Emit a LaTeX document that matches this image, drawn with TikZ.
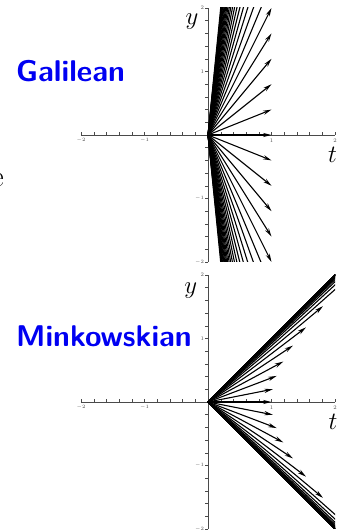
\documentclass[tikz,border=0pt]{standalone}
\usepackage{tikz}
\usetikzlibrary{arrows.meta}
\definecolor{titleblue}{HTML}{0000F2}
\definecolor{achsgrau}{HTML}{4A4A4A}
\newcommand{\ticklbl}{\fontsize{5.5}{6.5}\selectfont}
\newcommand{\gross}{\fontsize{30}{36}\selectfont}
\newcommand{\achsfont}{\fontsize{26}{30}\selectfont}
\tikzset{vecpfeil/.style={line width=1.1pt,-{Stealth[length=8.5pt,width=4.2pt]}},
  achse/.style={achsgrau,line width=0.7pt},
  strich/.style={achsgrau,line width=0.4pt},
  ticklabel/.style={inner sep=0,text=achsgrau,font=\ticklbl},
  titel/.style={anchor=base west,inner sep=0,text=titleblue,font=\gross\sffamily\bfseries}}

\begin{document}
\begin{tikzpicture}[x=1pt,y=1pt]
\useasboundingbox (0,0) rectangle (341,531);
% cut-off letter at the left edge
\begin{scope}
\clip (0,0) rectangle (341,531);
\node[anchor=east,inner sep=0,font=\gross] (rest) at (4,351) {e};
\end{scope}
\node[titel] (galilei) at (16,449) {Galilean};
\node[titel] (minkowski) at (16,184) {Minkowskian};
% Galilean plot
\begin{scope}[shift={(208,396)},x=63.5pt,y=63.5pt]
\draw[achse] (-2,0) -- (2,0);
\draw[achse] (0,-2) -- (0,2);
\foreach \s in {-10,...,10} {\draw[strich] (\s/5,0) -- (\s/5,0.04);
  \draw[strich] (0,\s/5) -- (-0.045,\s/5);}
\foreach \n/\lab in {-2/$-2$,-1/$-1$,1/1,2/2} {
  \node[ticklabel,anchor=north] (gx\n) at (\n,-0.05) {\lab};
  \node[ticklabel,anchor=east] (gy\n) at (-0.06,\n) {\lab};}
\begin{scope}
\clip (-2,-2) rectangle (2,2);
\foreach \k in {-25,...,25} \draw[vecpfeil] (0,0) -- (1,0.4*\k);
\end{scope}
\node[inner sep=0,font=\achsfont] (gylab) at (-0.25,1.78) {$y$};
\node[inner sep=0,font=\achsfont] (gtlab) at (1.96,-0.31) {$t$};
\end{scope}
% Minkowskian plot
\begin{scope}[shift={(208,129)},x=63.5pt,y=63.5pt]
\draw[achse] (-2,0) -- (2,0);
\draw[achse] (0,-2) -- (0,2);
\foreach \s in {-10,...,10} {\draw[strich] (\s/5,0) -- (\s/5,0.04);
  \draw[strich] (0,\s/5) -- (-0.045,\s/5);}
\foreach \n/\lab in {-2/$-2$,-1/$-1$,1/1,2/2} {
  \node[ticklabel,anchor=north] (mx\n) at (\n,-0.05) {\lab};
  \node[ticklabel,anchor=east] (my\n) at (-0.06,\n) {\lab};}
\begin{scope}
\clip (-2,-2) rectangle (2,2);
\foreach \k in {-25,...,25} \draw[vecpfeil] (0,0) -- ({cosh(0.2*\k)},{sinh(0.2*\k)});
\end{scope}
\node[inner sep=0,font=\achsfont] (mylab) at (-0.27,1.76) {$y$};
\node[inner sep=0,font=\achsfont] (mtlab) at (1.97,-0.31) {$t$};
\end{scope}
\end{tikzpicture}
\end{document}
